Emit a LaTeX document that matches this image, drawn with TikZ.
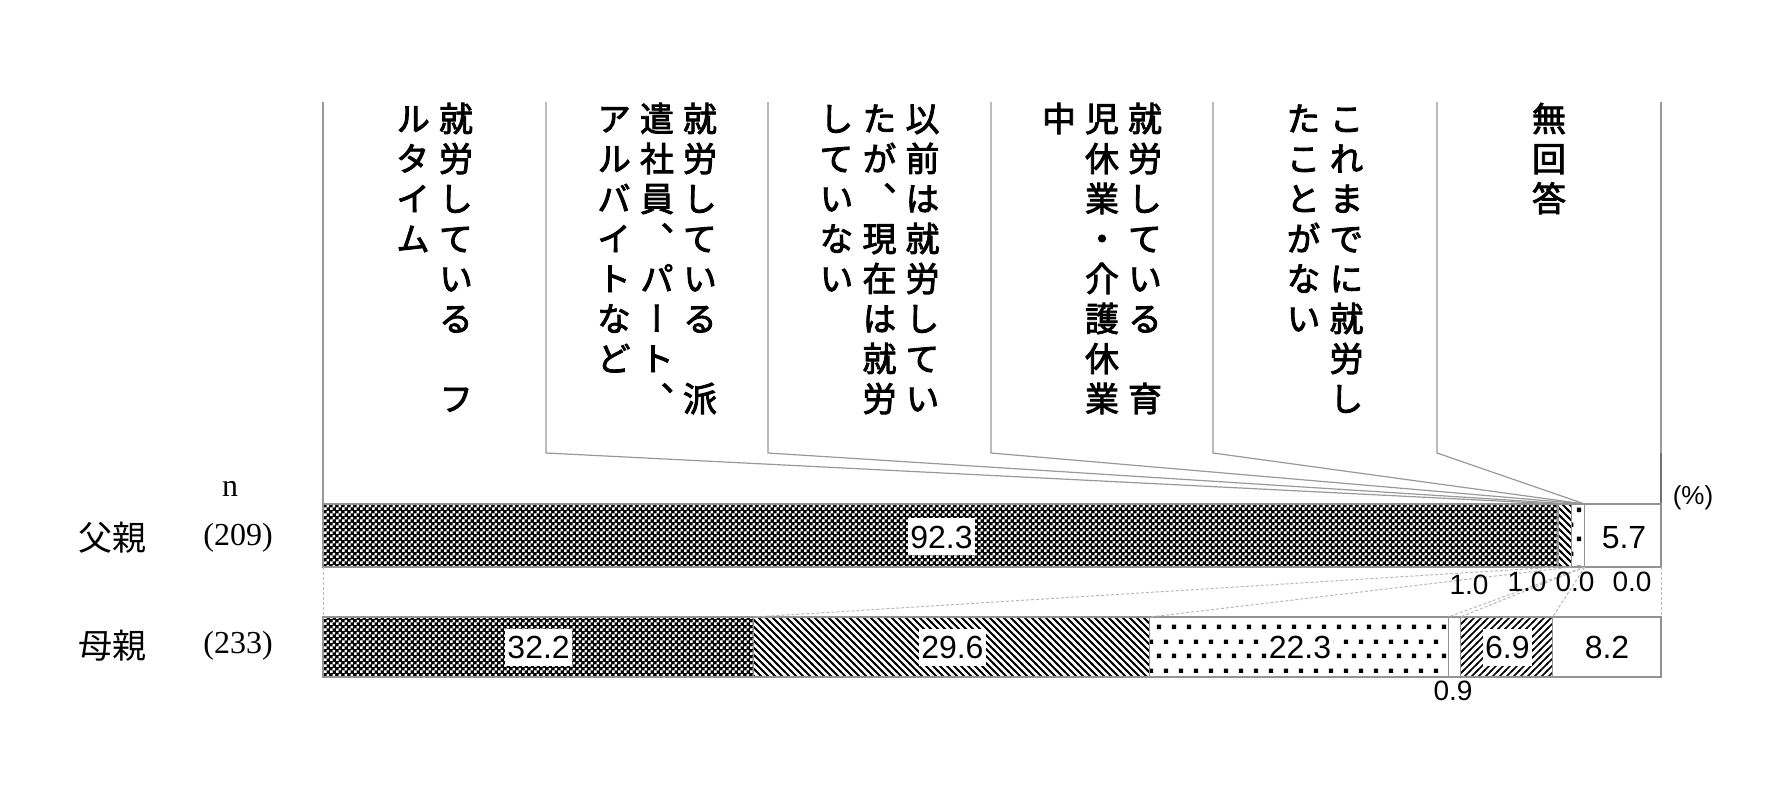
\documentclass[tikz,border=0pt]{standalone}
\usepackage{fontspec}
\setmainfont{Liberation Serif}
\newfontfamily\jpv[RawFeature=+vert, FakeBold=2.5]{Noto Sans CJK JP}
\newfontfamily\jpf{Noto Sans CJK JP}
\newfontfamily\numf{Liberation Sans}
\usetikzlibrary{patterns,calc}

\pgfdeclarepatternformonly{chk}{\pgfpointorigin}{\pgfqpoint{3pt}{3pt}}{\pgfqpoint{3pt}{3pt}}{%
  \pgfpathrectangle{\pgfpointorigin}{\pgfqpoint{1.5pt}{1.5pt}}%
  \pgfpathrectangle{\pgfqpoint{1.5pt}{1.5pt}}{\pgfqpoint{1.5pt}{1.5pt}}%
  \pgfusepath{fill}}
\pgfdeclarepatternformonly{nwl}{\pgfqpoint{-1pt}{-1pt}}{\pgfqpoint{4.5pt}{4.5pt}}{\pgfqpoint{3.5pt}{3.5pt}}{%
  \pgfsetlinewidth{0.9pt}%
  \pgfpathmoveto{\pgfqpoint{-0.5pt}{4pt}}\pgfpathlineto{\pgfqpoint{4pt}{-0.5pt}}%
  \pgfusepath{stroke}}
\pgfdeclarepatternformonly{nel}{\pgfqpoint{-1pt}{-1pt}}{\pgfqpoint{4.5pt}{4.5pt}}{\pgfqpoint{3.5pt}{3.5pt}}{%
  \pgfsetlinewidth{0.8pt}%
  \pgfpathmoveto{\pgfqpoint{-0.5pt}{-0.5pt}}\pgfpathlineto{\pgfqpoint{4pt}{4pt}}%
  \pgfusepath{stroke}}
\pgfdeclarepatternformonly{sqdots}{\pgfpointorigin}{\pgfqpoint{7.5pt}{14.5pt}}{\pgfqpoint{7.5pt}{14.5pt}}{%
  \pgfpathrectangle{\pgfqpoint{1pt}{1pt}}{\pgfqpoint{2.2pt}{2.2pt}}%
  \pgfpathrectangle{\pgfqpoint{4.75pt}{8.25pt}}{\pgfqpoint{2.2pt}{2.2pt}}%
  \pgfusepath{fill}}

\def\vcolend{}
\newcommand\vcell[1]{\hbox to 21.5pt{\hss\vrule height 16.5pt depth 3.5pt width 0pt\smash{#1}\hss}}
\def\vcolx#1{\ifx\vcolend#1\else\vcell{#1}\expandafter\vcolx\fi}
\newcommand\vcol[1]{\vtop{\offinterlineskip\vcolx#1\vcolend}}

\begin{document}
\begin{tikzpicture}[x=0.5pt,y=-0.5pt,
  frame/.style={draw=gray!85, line width=0.6pt},
  lead/.style={draw=gray!80, line width=0.6pt},
  series/.style={draw=gray!55, dash pattern=on 1.5pt off 1pt, line width=0.5pt},
  val/.style={font=\numf\fontsize{16pt}{18pt}\selectfont, inner sep=0pt, anchor=base},
  sval/.style={font=\numf\fontsize{14pt}{16pt}\selectfont, inner sep=0pt, anchor=base},
  valbox/.style={val, fill=white, inner xsep=1pt, inner ysep=2.5pt, text height=12.5pt, text depth=1pt},
  checker/.style={pattern=chk, pattern color=white},
  hdr/.style={anchor=north, inner sep=0pt, font=\jpv\fontsize{17pt}{20pt}\selectfont},
  lbl/.style={inner sep=0pt, font=\jpf\fontsize{17pt}{20pt}\selectfont},
  nlbl/.style={inner sep=0pt, font=\fontsize{16pt}{18pt}\selectfont},
  declare function={bx(\p)=323+13.38*\p;}
]
\useasboundingbox (0,0) rectangle (1768,804);
\fill[white] (0,0) rectangle (1768,804);

% bar coordinates
\foreach \n/\p in {a/0,b/92.3,c/93.3,d/94.3,e/94.3,f/94.3,g/100}{
  \coordinate (F\n t) at ({bx(\p)},504);
  \coordinate (F\n b) at ({bx(\p)},567);
}
\foreach \n/\p in {a/0,b/32.2,c/61.8,d/84.1,e/85.0,f/91.9,g/100}{
  \coordinate (M\n t) at ({bx(\p)},617);
  \coordinate (M\n b) at ({bx(\p)},677);
}
% header column lines
\foreach \i/\x in {1/323,2/546,3/768,4/991,5/1213,6/1437,7/1661}{
  \coordinate (H\i t) at (\x,102);
  \coordinate (H\i b) at (\x,453);
}

% header lines
\draw[lead] (H1t) -- (Fat);
\draw[lead] (H2t) -- (H2b) -- (Fbt);
\draw[lead] (H3t) -- (H3b) -- (Fct);
\draw[lead] (H4t) -- (H4b) -- (Fdt);
\draw[lead] (H5t) -- (H5b) -- (Fet);
\draw[lead] (H6t) -- (H6b) -- (Fft);
\draw[lead] (H7t) -- (H7b);
\draw[black!85, line width=0.6pt] (H7b) -- (Fgt);

% header texts
\node[hdr] (h1) at (434.5,98) {\hbox{\vcol{ルタイム}\vcol{就労している　フ}}};
\node[hdr] (h2) at (657,98) {\hbox{\vcol{アルバイトなど}\vcol{遣社員、パート、}\vcol{就労している　派}}};
\node[hdr] (h3) at (879.5,98) {\hbox{\vcol{していない}\vcol{たが、現在は就労}\vcol{以前は就労してい}}};
\node[hdr] (h4) at (1102,98) {\hbox{\vcol{中}\vcol{児休業・介護休業}\vcol{就労している　育}}};
\node[hdr] (h5) at (1325,98) {\hbox{\vcol{たことがない}\vcol{これまでに就労し}}};
\node[hdr] (h6) at (1549,98) {\hbox{\vcol{無回答}}};

% father bar
\fill[black] (Fat) rectangle (Fbb);
\fill[checker] (Fat) rectangle (Fbb);
\fill[pattern=nwl] (Fbt) rectangle (Fcb);
\fill[pattern=sqdots] (Fct) rectangle (Fdb);
\draw[frame] (Fat) rectangle (Fgb);
\foreach \n in {b,c,d}{\draw[frame] (F\n t) -- (F\n b);}

% mother bar
\fill[black] (Mat) rectangle (Mbb);
\fill[checker] (Mat) rectangle (Mbb);
\fill[pattern=nwl] (Mbt) rectangle (Mcb);
\fill[pattern=sqdots] (Mct) rectangle (Mdb);
\fill[pattern=nel] (Met) rectangle (Mfb);
\draw[frame] (Mat) rectangle (Mgb);
\foreach \n in {b,c,d,e,f}{\draw[frame] (M\n t) -- (M\n b);}

% series lines
\draw[series] (Fab) -- (Mat);
\draw[series] (Fbb) -- (Mbt);
\draw[series] (Fcb) -- (Mct);
\draw[series] (Fdb) -- (Mdt);
\draw[series] (Feb) -- (Met);
\draw[series] (Ffb) -- (Mft);
\draw[series] (Fgb) -- (Mgt);

% values
\node[valbox] (f1) at (941.5,548) {92.3};
\node[val] (f6) at (1624,548) {5.7};
\node[sval] (f2) at (1469,594) {1.0};
\node[sval] (f3) at (1527,591) {1.0};
\node[sval] (f4) at (1575,591) {0.0};
\node[sval] (f5) at (1632,591) {0.0};

\node[valbox] (m1) at (538.6,658.5) {32.2};
\node[valbox] (m2) at (952.4,658.5) {29.6};
\node[valbox] (m3) at (1299.9,658.5) {22.3};
\node[sval] (m4) at (1453,700) {0.9};
\node[valbox] (m5) at (1507.4,658.5) {6.9};
\node[val] (m6) at (1607,658.5) {8.2};

% left labels
\node[nlbl, anchor=base] (nn) at (230,496) {n};
\node[lbl] (fa) at (112,538) {父親};
\node[nlbl] (fn) at (238,538) {(209)};
\node[lbl] (mo) at (112,646) {母親};
\node[nlbl] (mn) at (238,646) {(233)};
\node[inner sep=0pt, font=\numf\fontsize{13pt}{15pt}\selectfont] (pct) at (1693,498) {(\%)};
\end{tikzpicture}
\end{document}
